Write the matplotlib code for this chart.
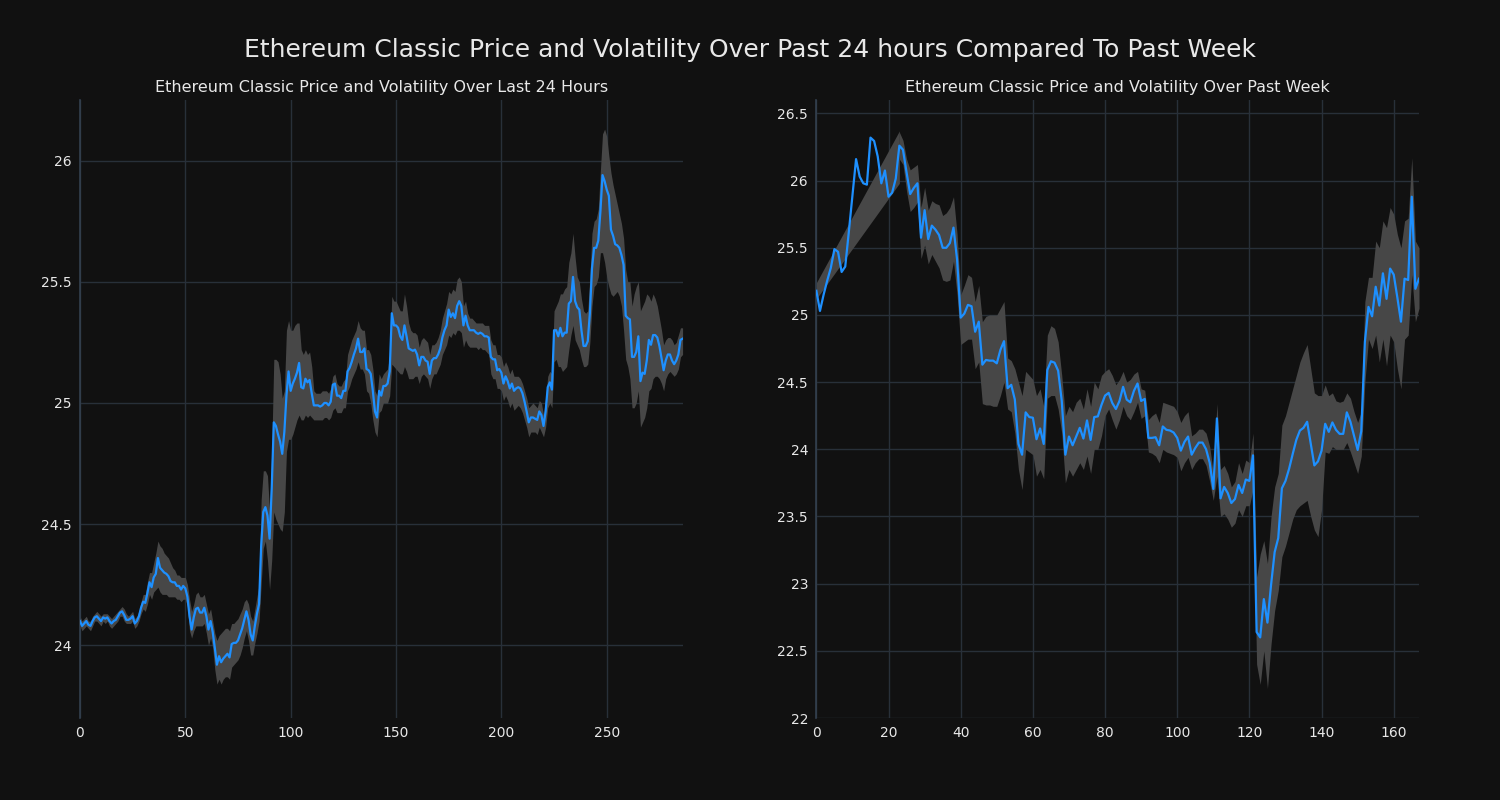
import matplotlib
matplotlib.use("Agg")
import matplotlib.pyplot as plt
from matplotlib.ticker import FuncFormatter

# ---------------- data: last 24 hours (5-minute steps) ----------------
day_price = [
    24.10, 24.08, 24.09, 24.10, 24.085, 24.08, 24.10, 24.115, 24.12, 24.11,
    24.10, 24.115, 24.11, 24.115, 24.10, 24.09, 24.10, 24.105, 24.12, 24.135,
    24.14, 24.125, 24.105, 24.105, 24.11, 24.12, 24.09, 24.10, 24.12, 24.155,
    24.18, 24.175, 24.215, 24.26, 24.24, 24.28, 24.295, 24.36, 24.32, 24.31,
    24.30, 24.295, 24.285, 24.265, 24.26, 24.26, 24.245, 24.245, 24.23, 24.245,
    24.235, 24.20, 24.12, 24.065, 24.115, 24.15, 24.155, 24.135, 24.135, 24.155,
    24.12, 24.065, 24.10, 24.055, 23.99, 23.92, 23.955, 23.93, 23.945, 23.955,
    23.965, 23.95, 24.005, 24.01, 24.01, 24.02, 24.045, 24.07, 24.105, 24.14,
    24.105, 24.045, 24.02, 24.08, 24.13, 24.17, 24.41, 24.55, 24.57, 24.535,
    24.44, 24.645, 24.92, 24.905, 24.87, 24.84, 24.79, 24.88, 25.03, 25.13,
    25.05, 25.08, 25.10, 25.125, 25.165, 25.065, 25.06, 25.10, 25.085, 25.095,
    25.04, 24.99, 24.99, 24.99, 24.985, 24.99, 25.00, 25.00, 24.99, 25.005,
    25.075, 25.08, 25.03, 25.03, 25.02, 25.05, 25.05, 25.13, 25.145, 25.17,
    25.20, 25.225, 25.265, 25.21, 25.21, 25.225, 25.14, 25.135, 25.12, 25.05,
    24.965, 24.94, 25.05, 25.03, 25.07, 25.07, 25.08, 25.13, 25.37, 25.32,
    25.32, 25.31, 25.275, 25.26, 25.32, 25.275, 25.225, 25.22, 25.215, 25.22,
    25.20, 25.155, 25.19, 25.19, 25.175, 25.17, 25.12, 25.175, 25.185, 25.185,
    25.20, 25.225, 25.27, 25.30, 25.32, 25.385, 25.355, 25.37, 25.35, 25.40,
    25.42, 25.40, 25.32, 25.36, 25.32, 25.30, 25.30, 25.30, 25.29, 25.285,
    25.29, 25.285, 25.275, 25.275, 25.27, 25.19, 25.18, 25.18, 25.135, 25.14,
    25.125, 25.08, 25.11, 25.09, 25.06, 25.08, 25.05, 25.06, 25.065, 25.06,
    25.04, 25.005, 24.965, 24.92, 24.94, 24.94, 24.935, 24.93, 24.965, 24.95,
    24.905, 24.965, 25.065, 25.085, 25.055, 25.30, 25.30, 25.275, 25.31, 25.275,
    25.29, 25.29, 25.41, 25.42, 25.52, 25.42, 25.395, 25.385, 25.30, 25.235,
    25.235, 25.255, 25.37, 25.555, 25.64, 25.64, 25.67, 25.79, 25.94, 25.915,
    25.88, 25.855, 25.715, 25.69, 25.655, 25.65, 25.64, 25.61, 25.57, 25.36,
    25.35, 25.345, 25.19, 25.19, 25.21, 25.275, 25.09, 25.125, 25.12, 25.175,
    25.26, 25.24, 25.28, 25.28, 25.27, 25.235, 25.185, 25.135, 25.175, 25.20,
    25.20, 25.175, 25.16, 25.175, 25.20, 25.26, 25.265,
]
day_upper = [
    24.12, 24.10, 24.11, 24.12, 24.10, 24.10, 24.12, 24.13, 24.14, 24.13,
    24.12, 24.13, 24.13, 24.13, 24.12, 24.11, 24.12, 24.13, 24.14, 24.15,
    24.16, 24.15, 24.13, 24.12, 24.13, 24.14, 24.11, 24.12, 24.14, 24.18,
    24.21, 24.21, 24.26, 24.30, 24.30, 24.34, 24.38, 24.43, 24.41, 24.40,
    24.38, 24.37, 24.36, 24.34, 24.32, 24.31, 24.29, 24.29, 24.28, 24.28,
    24.28, 24.25, 24.19, 24.14, 24.17, 24.21, 24.22, 24.20, 24.20, 24.21,
    24.17, 24.13, 24.15, 24.10, 24.05, 24.02, 24.04, 24.05, 24.06, 24.07,
    24.07, 24.06, 24.09, 24.09, 24.10, 24.11, 24.13, 24.15, 24.18, 24.19,
    24.17, 24.12, 24.10, 24.15, 24.20, 24.25, 24.60, 24.72, 24.72, 24.70,
    24.55, 24.80, 25.18, 25.18, 25.17, 25.12, 25.02, 25.05, 25.30, 25.34,
    25.30, 25.30, 25.32, 25.33, 25.33, 25.22, 25.20, 25.22, 25.20, 25.21,
    25.15, 25.05, 25.04, 25.04, 25.04, 25.05, 25.05, 25.05, 25.04, 25.06,
    25.11, 25.12, 25.08, 25.07, 25.07, 25.09, 25.10, 25.20, 25.23, 25.26,
    25.28, 25.30, 25.34, 25.31, 25.30, 25.30, 25.22, 25.22, 25.20, 25.14,
    25.05, 25.03, 25.12, 25.10, 25.12, 25.13, 25.14, 25.20, 25.44, 25.42,
    25.42, 25.40, 25.38, 25.38, 25.45, 25.40, 25.33, 25.30, 25.29, 25.29,
    25.28, 25.23, 25.26, 25.27, 25.26, 25.25, 25.20, 25.24, 25.24, 25.25,
    25.27, 25.30, 25.35, 25.38, 25.41, 25.46, 25.45, 25.47, 25.46, 25.51,
    25.52, 25.50, 25.40, 25.42, 25.37, 25.35, 25.35, 25.34, 25.33, 25.33,
    25.33, 25.33, 25.32, 25.32, 25.32, 25.26, 25.24, 25.24, 25.20, 25.20,
    25.19, 25.15, 25.17, 25.15, 25.12, 25.14, 25.11, 25.11, 25.11, 25.10,
    25.08, 25.05, 25.02, 24.98, 24.99, 25.00, 24.99, 24.98, 25.01, 25.00,
    24.95, 25.02, 25.11, 25.13, 25.12, 25.38, 25.40, 25.42, 25.45, 25.45,
    25.47, 25.48, 25.58, 25.62, 25.70, 25.60, 25.52, 25.50, 25.43, 25.38,
    25.37, 25.38, 25.52, 25.70, 25.75, 25.76, 25.80, 25.96, 26.11, 26.13,
    26.10, 26.02, 25.95, 25.90, 25.86, 25.82, 25.78, 25.74, 25.68, 25.55,
    25.50, 25.50, 25.40, 25.45, 25.48, 25.50, 25.38, 25.40, 25.42, 25.45,
    25.44, 25.42, 25.45, 25.43, 25.40, 25.35, 25.30, 25.24, 25.26, 25.27,
    25.27, 25.26, 25.24, 25.25, 25.28, 25.31, 25.31,
]
day_lower = [
    24.08, 24.06, 24.07, 24.08, 24.07, 24.06, 24.08, 24.10, 24.10, 24.09,
    24.08, 24.10, 24.09, 24.10, 24.08, 24.07, 24.08, 24.09, 24.10, 24.12,
    24.12, 24.10, 24.09, 24.09, 24.09, 24.10, 24.07, 24.08, 24.10, 24.13,
    24.15, 24.14, 24.17, 24.21, 24.19, 24.22, 24.23, 24.24, 24.22, 24.21,
    24.21, 24.21, 24.20, 24.20, 24.20, 24.20, 24.19, 24.19, 24.18, 24.19,
    24.19, 24.16, 24.06, 24.03, 24.06, 24.08, 24.08, 24.08, 24.08, 24.09,
    24.05, 24.00, 24.03, 23.99, 23.90, 23.84, 23.86, 23.84, 23.86, 23.87,
    23.87, 23.86, 23.91, 23.92, 23.93, 23.94, 23.96, 23.99, 24.03, 24.06,
    24.02, 23.96, 23.96, 24.01, 24.05, 24.10, 24.25, 24.40, 24.43, 24.35,
    24.23, 24.35, 24.55, 24.52, 24.50, 24.48, 24.47, 24.55, 24.80, 24.85,
    24.85, 24.87, 24.90, 24.93, 24.95, 24.93, 24.93, 24.95, 24.94, 24.95,
    24.94, 24.93, 24.93, 24.93, 24.93, 24.93, 24.94, 24.94, 24.93, 24.94,
    24.97, 24.98, 24.96, 24.96, 24.96, 24.98, 24.98, 25.05, 25.07, 25.10,
    25.12, 25.14, 25.17, 25.14, 25.14, 25.12, 25.05, 25.04, 25.00, 24.93,
    24.88, 24.86, 24.96, 24.97, 25.00, 25.00, 25.00, 25.03, 25.16, 25.15,
    25.14, 25.13, 25.12, 25.12, 25.15, 25.13, 25.10, 25.10, 25.10, 25.11,
    25.11, 25.08, 25.11, 25.12, 25.11, 25.10, 25.06, 25.10, 25.12, 25.12,
    25.14, 25.16, 25.20, 25.22, 25.24, 25.28, 25.27, 25.29, 25.28, 25.30,
    25.30, 25.29, 25.23, 25.26, 25.24, 25.23, 25.23, 25.23, 25.23, 25.22,
    25.23, 25.22, 25.22, 25.21, 25.20, 25.12, 25.10, 25.10, 25.06, 25.06,
    25.05, 25.01, 25.03, 25.01, 24.98, 25.00, 24.97, 24.98, 24.99, 24.98,
    24.96, 24.93, 24.90, 24.86, 24.88, 24.88, 24.88, 24.87, 24.90, 24.88,
    24.86, 24.90, 24.98, 25.00, 24.98, 25.17, 25.18, 25.15, 25.15, 25.13,
    25.14, 25.15, 25.22, 25.28, 25.32, 25.26, 25.24, 25.22, 25.18, 25.15,
    25.15, 25.16, 25.25, 25.40, 25.48, 25.49, 25.52, 25.62, 25.62, 25.58,
    25.52, 25.48, 25.45, 25.44, 25.45, 25.46, 25.44, 25.40, 25.30, 25.18,
    25.15, 25.10, 24.98, 24.98, 25.00, 25.05, 24.90, 24.92, 24.94, 24.98,
    25.05, 25.06, 25.10, 25.11, 25.11, 25.10, 25.08, 25.05, 25.10, 25.12,
    25.13, 25.12, 25.11, 25.12, 25.14, 25.19, 25.20,
]

# ---------------- data: past week (hourly) ----------------
week_price = [
    25.18, 25.03, 25.15, 25.255, 25.35, 25.49, 25.47, 25.32, 25.36, 25.62,
    25.89, 26.16, 26.03, 25.98, 25.97, 26.32, 26.295, 26.18, 25.98, 26.075,
    25.88, 25.91, 26.015, 26.26, 26.23, 26.06, 25.90, 25.945, 25.98, 25.575,
    25.78, 25.565, 25.665, 25.635, 25.595, 25.50, 25.50, 25.535, 25.65, 25.41,
    24.98, 25.01, 25.075, 25.065, 24.875, 24.95, 24.63, 24.665, 24.66, 24.66,
    24.64, 24.74, 24.805, 24.455, 24.48, 24.37, 24.04, 23.96, 24.275, 24.24,
    24.235, 24.075, 24.155, 24.04, 24.59, 24.655, 24.645, 24.585, 24.36, 23.96,
    24.095, 24.03, 24.095, 24.16, 24.08, 24.215, 24.07, 24.24, 24.245, 24.33,
    24.40, 24.42, 24.345, 24.30, 24.36, 24.465, 24.37, 24.35, 24.435, 24.49,
    24.36, 24.375, 24.085, 24.085, 24.09, 24.03, 24.17, 24.145, 24.14, 24.125,
    24.085, 23.99, 24.055, 24.095, 23.96, 24.01, 24.05, 24.05, 24.00, 23.90,
    23.705, 24.23, 23.635, 23.72, 23.675, 23.60, 23.63, 23.735, 23.675, 23.775,
    23.765, 23.955, 22.64, 22.60, 22.885, 22.71, 22.99, 23.235, 23.34, 23.71,
    23.765, 23.855, 23.965, 24.07, 24.14, 24.16, 24.205, 24.04, 23.88, 23.91,
    23.99, 24.19, 24.13, 24.20, 24.145, 24.115, 24.115, 24.275, 24.205, 24.10,
    23.995, 24.135, 24.80, 25.06, 24.99, 25.21, 25.07, 25.31, 25.12, 25.345,
    25.30, 25.13, 24.95, 25.27, 25.26, 25.88, 25.195, 25.27,
]
# volatility band of the week starts at hour 23; before that it is one thin wedge
week_band_first_hour = 23
week_strip_hours = [0, 23]
week_strip_lower = [25.12, 25.98]
week_strip_upper = [25.24, 26.37]
week_upper = [
    26.36, 26.30, 26.16, 26.08, 26.10, 26.12, 25.80,
    25.95, 25.78, 25.85, 25.83, 25.82, 25.74, 25.76, 25.80, 25.88, 25.60,
    25.15, 25.22, 25.30, 25.28, 25.10, 25.22, 24.95, 24.99, 25.00, 25.00,
    25.00, 25.05, 25.10, 24.68, 24.66, 24.60, 24.50, 24.40, 24.58, 24.55,
    24.52, 24.40, 24.45, 24.32, 24.85, 24.92, 24.90, 24.80, 24.55, 24.25,
    24.32, 24.28, 24.35, 24.38, 24.30, 24.45, 24.32, 24.50, 24.45, 24.55,
    24.58, 24.60, 24.55, 24.48, 24.52, 24.58, 24.50, 24.52, 24.56, 24.58,
    24.45, 24.44, 24.22, 24.25, 24.27, 24.20, 24.35, 24.34, 24.33, 24.32,
    24.28, 24.20, 24.25, 24.28, 24.10, 24.12, 24.15, 24.15, 24.12, 24.02,
    23.82, 24.34, 23.85, 23.88, 23.82, 23.72, 23.76, 23.90, 23.82, 23.92,
    23.90, 24.12, 23.05, 23.22, 23.32, 23.15, 23.50, 23.72, 23.82, 24.18,
    24.25, 24.35, 24.45, 24.55, 24.65, 24.72, 24.78, 24.60, 24.42, 24.40,
    24.40, 24.48, 24.40, 24.42, 24.36, 24.35, 24.36, 24.42, 24.38, 24.28,
    24.20, 24.28, 25.10, 25.28, 25.28, 25.55, 25.50, 25.70, 25.65, 25.80,
    25.75, 25.60, 25.50, 25.70, 25.72, 26.17, 25.55, 25.50,
]
week_lower = [
    26.16, 26.12, 25.92, 25.77, 25.80, 25.84, 25.42,
    25.52, 25.38, 25.45, 25.40, 25.35, 25.26, 25.25, 25.26, 25.40, 25.15,
    24.78, 24.80, 24.82, 24.82, 24.60, 24.65, 24.34, 24.33, 24.33, 24.32,
    24.32, 24.40, 24.50, 24.30, 24.28, 24.12, 23.85, 23.70, 24.00, 23.98,
    23.96, 23.80, 23.85, 23.78, 24.38, 24.40, 24.40, 24.30, 24.12, 23.75,
    23.85, 23.80, 23.85, 23.90, 23.85, 23.95, 23.82, 24.00, 24.00, 24.10,
    24.25, 24.30, 24.22, 24.15, 24.22, 24.32, 24.25, 24.22, 24.28, 24.35,
    24.23, 24.25, 23.98, 23.97, 23.95, 23.90, 24.00, 23.98, 23.97, 23.96,
    23.94, 23.84, 23.90, 23.94, 23.85, 23.90, 23.93, 23.93, 23.88, 23.76,
    23.62, 23.80, 23.50, 23.52, 23.48, 23.42, 23.45, 23.55, 23.50, 23.58,
    23.58, 23.70, 22.40, 22.25, 22.50, 22.22, 22.55, 22.80, 22.95, 23.20,
    23.28, 23.38, 23.48, 23.55, 23.58, 23.60, 23.62, 23.50, 23.40, 23.35,
    23.55, 23.98, 23.97, 24.02, 24.00, 24.00, 24.00, 24.05, 23.98, 23.90,
    23.82, 23.95, 24.50, 24.82, 24.75, 24.85, 24.65, 24.82, 24.62, 24.85,
    24.80, 24.60, 24.45, 24.82, 24.85, 25.30, 24.95, 25.05,
]

day_yticks = [24, 24.5, 25, 25.5, 26]
day_xticks = [0, 50, 100, 150, 200, 250]
week_yticks = [22, 22.5, 23, 23.5, 24, 24.5, 25, 25.5, 26, 26.5]
week_xticks = [0, 20, 40, 60, 80, 100, 120, 140, 160]

suptitle = "Ethereum Classic Price and Volatility Over Past 24 hours Compared To Past Week"
title_day = "Ethereum Classic Price and Volatility Over Last 24 Hours"
title_week = "Ethereum Classic Price and Volatility Over Past Week"

# ---------------- styling ----------------
BG = "#111111"
GRID = "#283039"
SPINE = "#33404f"
TEXT = "#e8e8e8"
LINE = "#1e90ff"
BAND = "#474747"

plt.rcParams["font.family"] = ["DejaVu Sans"]

fig, (ax1, ax2) = plt.subplots(1, 2, figsize=(15, 8), dpi=100)
fig.patch.set_facecolor(BG)
fig.subplots_adjust(left=0.0533, right=0.946, bottom=0.1025, top=0.875, wspace=0.222)

fmt = FuncFormatter(lambda v, p: f"{v:g}")

def style(ax, title, xticks, yticks, xlim, ylim):
    ax.set_facecolor(BG)
    ax.set_xlim(*xlim)
    ax.set_ylim(*ylim)
    ax.set_xticks(xticks)
    ax.set_yticks(yticks)
    ax.yaxis.set_major_formatter(fmt)
    ax.grid(True, color=GRID, linewidth=1.0)
    ax.set_axisbelow(True)
    for s in ("top", "right", "bottom"):
        ax.spines[s].set_visible(False)
    ax.spines["left"].set_color(SPINE)
    ax.spines["left"].set_linewidth(1.2)
    ax.tick_params(axis="both", length=0, colors=TEXT, labelsize=10, pad=6)
    ax.set_title(title, color=TEXT, fontsize=11.5, pad=6)

# left: last 24 hours
xd = list(range(len(day_price)))
ax1.fill_between(xd, day_lower, day_upper, color=BAND, linewidth=0, zorder=2)
ax1.plot(xd, day_price, color=LINE, linewidth=1.6, zorder=3)
style(ax1, title_day, day_xticks, day_yticks, (0, len(day_price) - 1), (23.70, 26.25))

# right: past week
xw = list(range(len(week_price)))
xb = list(range(week_band_first_hour, week_band_first_hour + len(week_upper)))
ax2.fill_between(week_strip_hours, week_strip_lower, week_strip_upper, color=BAND, linewidth=0, zorder=2)
ax2.fill_between(xb, week_lower, week_upper, color=BAND, linewidth=0, zorder=2)
ax2.plot(xw, week_price, color=LINE, linewidth=1.6, zorder=3)
style(ax2, title_week, week_xticks, week_yticks, (0, len(week_price) - 1), (22.0, 26.6))

fig.suptitle(suptitle, color=TEXT, fontsize=18, y=0.937, va="center")

fig.savefig("out.png", dpi=100, facecolor=BG)
